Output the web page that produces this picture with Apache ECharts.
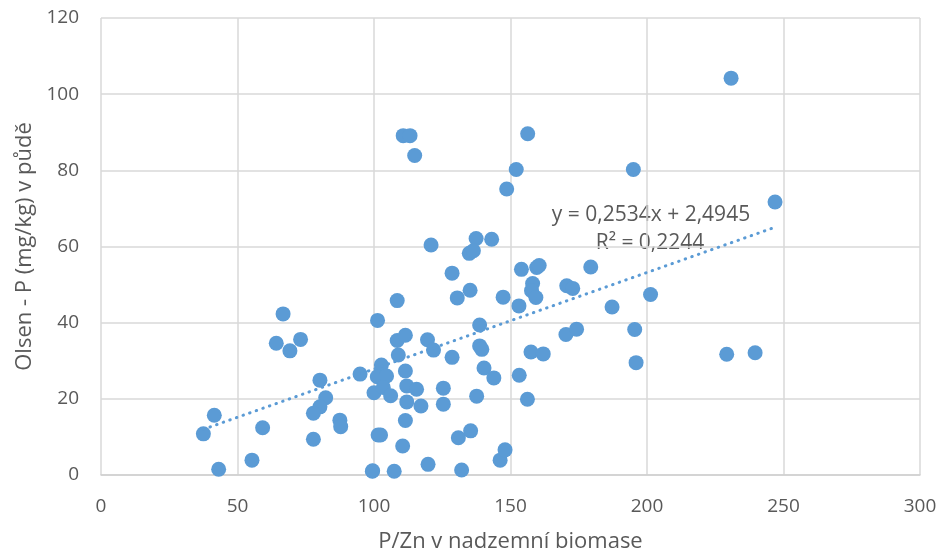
<!DOCTYPE html>
<html>
<head>
<meta charset="utf-8">
<script src="https://cdn.jsdelivr.net/npm/echarts@6/dist/echarts.min.js"></script>
<style>
  html, body { margin: 0; padding: 0; background: #fff; }
  #chart { width: 940px; height: 556px; }
</style>
</head>
<body>
<div id="chart"></div>
<script>
// P/Zn ratio in above-ground biomass (x) vs. Olsen-P in soil (y)
const pzn = [
  66.7, 64.2, 73.1, 69.2, 80.2, 94.9, 82.3, 80.2, 77.8, 41.5,
  37.5, 59.2, 87.5, 87.8, 77.8, 43.1, 55.3, 99.4, 101.3, 101.5,
  110.7, 113.2, 114.9, 156.3, 152.1, 148.6, 120.9, 137.4, 143.1, 134.9,
  136.4, 128.6, 154.0, 159.6, 160.5, 158.1, 157.7, 159.3, 135.2, 130.5,
  147.3, 153.1, 108.5, 108.5, 111.5, 119.6, 121.8, 108.9, 128.6, 138.7,
  138.7, 139.5, 140.3, 143.9, 153.2, 157.5, 162.0, 156.2, 102.7, 101.2,
  104.6, 100.0, 103.4, 106.1, 111.5, 112.0, 115.6, 112.0, 117.2, 125.4,
  125.4, 137.6, 111.5, 102.4, 110.5, 130.9, 135.4, 146.2, 148.0, 99.5,
  107.4, 119.8, 132.1, 195.0, 246.9, 179.4, 170.6, 172.8, 201.3, 187.2,
  170.3, 174.2, 195.5, 229.2, 239.6, 196.0, 230.8
];
const olsenP = [
  42.3, 34.6, 35.6, 32.6, 24.9, 26.5, 20.3, 17.9, 16.2, 15.7,
  10.8, 12.4, 14.4, 12.7, 9.4, 1.5, 3.9, 1.0, 40.6, 10.5,
  89.1, 89.1, 83.9, 89.6, 80.2, 75.1, 60.4, 62.1, 61.9, 58.2,
  58.9, 53.0, 54.0, 54.5, 55.0, 50.3, 48.4, 46.6, 48.5, 46.5,
  46.7, 44.4, 45.8, 35.3, 36.7, 35.5, 32.8, 31.5, 30.9, 39.4,
  33.9, 33.0, 28.1, 25.5, 26.2, 32.3, 31.8, 19.9, 28.9, 25.8,
  26.0, 21.6, 23.0, 20.8, 27.3, 23.4, 22.5, 19.2, 18.1, 22.8,
  18.6, 20.7, 14.3, 10.5, 7.6, 9.8, 11.6, 3.9, 6.6, 1.1,
  1.0, 2.8, 1.3, 80.2, 71.7, 54.6, 49.7, 49.0, 47.4, 44.1,
  36.9, 38.3, 38.2, 31.7, 32.1, 29.5, 104.2
];

// Linear trend stated on the chart
const slope = 0.2534;
const intercept = 2.4945;
const rSquared = 0.2244;

const xTicks = [0, 50, 100, 150, 200, 250, 300];
const yTicks = [0, 20, 40, 60, 80, 100, 120];

const points = pzn.map((x, i) => [x, olsenP[i]]);
const xMin = Math.min(...pzn), xMax = Math.max(...pzn);
const trend = [[xMin, slope * xMin + intercept], [xMax, slope * xMax + intercept]];

const fmt = v => v.toFixed(4).replace('.', ',');
const textColor = '#595959';
const font = 'Open Sans';

const chart = echarts.init(document.getElementById('chart'));
chart.setOption({
  animation: false,
  textStyle: { fontFamily: font },
  grid: { left: 101, right: 20, top: 18, bottom: 81, outerBoundsMode: 'none', containLabel: false },
  xAxis: {
    type: 'value', min: xTicks[0], max: xTicks[xTicks.length - 1], interval: 50,
    name: 'P/Zn v nadzemní biomase', nameLocation: 'middle', nameGap: 56,
    nameTextStyle: { color: textColor, fontSize: 22, fontFamily: font },
    axisLine: { show: true, lineStyle: { color: '#d0d0d0', width: 1.5 } },
    axisTick: { show: false },
    axisLabel: { color: textColor, fontSize: 19, margin: 22, fontFamily: font },
    splitLine: { show: true, lineStyle: { color: '#d9d9d9', width: 1.5 } }
  },
  yAxis: {
    type: 'value', min: yTicks[0], max: yTicks[yTicks.length - 1], interval: 20,
    name: 'Olsen - P (mg/kg) v půdě', nameLocation: 'middle', nameGap: 65,
    nameTextStyle: { color: textColor, fontSize: 22, fontFamily: font },
    axisLine: { show: false },
    axisTick: { show: false },
    axisLabel: { color: textColor, fontSize: 19, margin: 22, fontFamily: font },
    splitLine: { show: true, lineStyle: { color: '#d9d9d9', width: 1.5 } }
  },
  series: [
    {
      type: 'scatter',
      data: points,
      symbolSize: 15,
      itemStyle: { color: '#5B9BD5', opacity: 1 },
      z: 3
    },
    {
      type: 'line',
      data: trend,
      symbol: 'none',
      lineStyle: { color: '#5B9BD5', width: 3, type: [0.5, 6.5], cap: 'round' },
      z: 4
    }
  ],
  graphic: [
    {
      type: 'text', x: 651, y: 215,
      style: { text: 'y = ' + fmt(slope) + 'x + ' + fmt(intercept), fill: textColor, fontSize: 21, fontFamily: font, align: 'center', verticalAlign: 'middle' }
    },
    {
      type: 'text', x: 650, y: 243,
      style: { text: 'R² = ' + fmt(rSquared), fill: textColor, fontSize: 21, fontFamily: font, align: 'center', verticalAlign: 'middle' }
    }
  ]
});
</script>
</body>
</html>
